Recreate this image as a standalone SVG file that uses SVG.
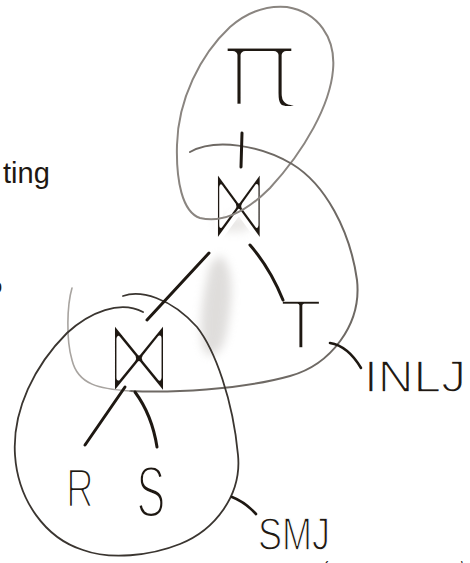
<svg xmlns="http://www.w3.org/2000/svg" width="470" height="563" viewBox="0 0 470 563">
  <defs>
    <filter id="blur" x="-50%" y="-50%" width="200%" height="200%">
      <feGaussianBlur stdDeviation="5"/>
    </filter>
  </defs>
  <style>
    .ink { fill: #1e1812; font-family: "Liberation Sans", "DejaVu Sans", sans-serif; stroke: #ffffff; paint-order: fill stroke; stroke-linejoin: round; }
    .sym { fill: #1e1812; font-family: "DejaVu Sans", "Liberation Sans", sans-serif; stroke: #ffffff; paint-order: fill stroke; stroke-linejoin: round; }
    .edge { fill: none; stroke: #1e1812; stroke-width: 3; stroke-linecap: round; }
    .ptr { fill: none; stroke: #1e1812; stroke-width: 2.6; stroke-linecap: round; }
    .loop { fill: none; stroke-linecap: round; }
  </style>
  <rect width="470" height="563" fill="#ffffff"/>

  <!-- eraser smudge -->
  <g id="smudge" filter="url(#blur)" opacity="0.4">
    <path d="M220,255 C236,268 232,305 226,335 C221,355 210,362 203,348 C198,322 204,290 210,265 Z" fill="#b0aca8"/>
    <ellipse cx="234" cy="224" rx="18" ry="8" fill="#c8c4c0"/>
  </g>

  <!-- nodes -->
  <g id="node-proj">
    <text class="sym" x="0" y="0" font-size="80" stroke-width="5.5" text-anchor="middle" transform="translate(260,108) scale(1.75,1.45)">π</text>
  </g>
  <g id="node-join-top">
    <text class="sym" x="0" y="0" font-size="60" stroke-width="3.6" text-anchor="middle" transform="translate(239,240) scale(0.96,1.8)">⋈</text>
  </g>
  <g id="node-T">
    <text class="ink" x="301" y="349" font-size="70" stroke-width="3.5" text-anchor="middle">T</text>
  </g>
  <g id="node-join-bottom">
    <text class="sym" x="0" y="0" font-size="60" stroke-width="3.6" text-anchor="middle" transform="translate(139,393) scale(1.1,1.85)">⋈</text>
  </g>
  <g id="node-R">
    <text class="ink" x="0" y="0" font-size="55" stroke-width="2.4" text-anchor="middle" transform="translate(80,507) scale(0.7,1)">R</text>
  </g>
  <g id="node-S">
    <text class="ink" x="0" y="0" font-size="72" stroke-width="3" text-anchor="middle" transform="translate(151,517) scale(0.6,1)">S</text>
  </g>

  <!-- grouping loops -->
  <g id="loop-proj">
    <path class="loop" stroke="#8a8580" stroke-width="2" d="M287,7 C318,12 336,38 333,70 C330,105 305,150 270,188 C250,208 225,224 200,218 C182,212 176,180 177,145 C178,100 200,55 230,27 C245,14 265,5 287,7 Z"/>
  </g>
  <g id="loop-inlj">
    <path class="loop" stroke="#6e6964" stroke-width="2" d="M190,152 C215,138 260,145 292,164 C325,184 350,230 357,280 C362,325 330,365 290,376 C240,390 170,393 130,391"/>
    <path class="loop" stroke="#a8a4a0" stroke-width="1.6" d="M130,391 C100,389 78,385 72,360 C66,340 67,305 72,288"/>
  </g>
  <g id="loop-smj">
    <path class="loop" stroke="#3a3530" stroke-width="1.8" d="M123,296 C140,290 170,297 197,327 C215,350 233,400 238,455 C242,495 215,530 180,544 C150,556 110,560 83,550 C45,538 18,500 15,455 C12,410 35,365 67,333 C90,312 120,300 143,312"/>
  </g>

  <!-- connectors -->
  <g id="connectors">
    <path class="edge" d="M242,133 L241,167"/>
    <path class="edge" d="M209,253 L147,320"/>
    <path class="edge" d="M250,245 Q270,268 283,300"/>
    <path class="edge" d="M125,387 L85,445"/>
    <path class="edge" d="M135,392 Q152,415 157,447"/>
    <path class="ptr" d="M330,343 Q348,346 361,368"/>
    <path class="ptr" d="M232,497 Q245,502 256,514"/>
  </g>

  <!-- labels -->
  <g id="label-inlj">
    <text class="ink" x="364" y="392" font-size="44" stroke-width="1.4" textLength="102" lengthAdjust="spacingAndGlyphs">INLJ</text>
  </g>
  <g id="label-smj">
    <text class="ink" x="258" y="550" font-size="46" stroke-width="1.4" textLength="72" lengthAdjust="spacingAndGlyphs">SMJ</text>
  </g>

  <!-- partial text at edges -->
  <g id="margin-text">
    <text class="ink" x="3" y="183" font-size="29" stroke-width="0">ting</text>
    <text class="ink" x="-9" y="293" font-size="20" stroke-width="0">o</text>
    <text class="ink" x="323" y="573" font-size="16" stroke-width="0">(</text>
    <text class="ink" x="461" y="572" font-size="14" stroke-width="0">\</text>
  </g>
</svg>
